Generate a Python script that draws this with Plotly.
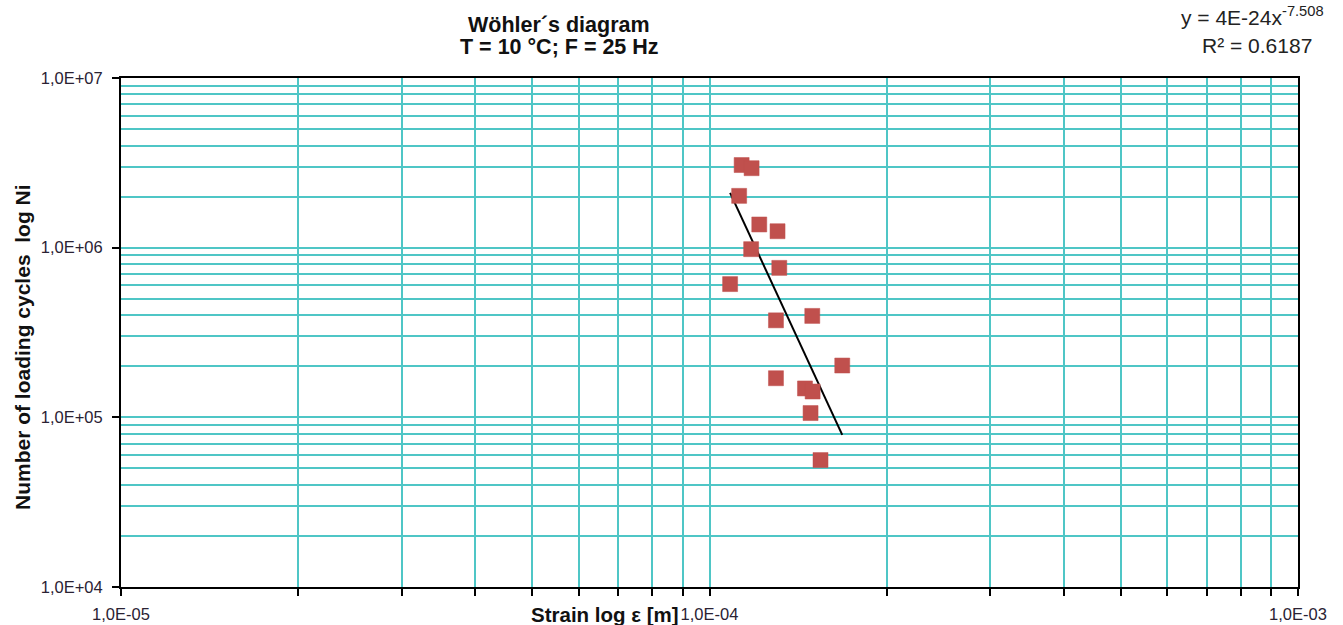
import numpy as np
import plotly.graph_objects as go

# Data
strain = [1.134e-4, 1.179e-4, 1.123e-4, 1.215e-4, 1.305e-4, 1.177e-4, 1.314e-4, 1.084e-4,
          1.297e-4, 1.495e-4, 1.681e-4, 1.297e-4, 1.453e-4, 1.497e-4, 1.485e-4, 1.544e-4]
cycles = [3.07e6, 2.94e6, 2.02e6, 1.37e6, 1.25e6, 9.8e5, 7.6e5, 6.1e5,
          3.73e5, 3.96e5, 2.02e5, 1.70e5, 1.48e5, 1.42e5, 1.06e5, 5.6e4]

x_tickvals = [1e-5, 1e-4, 1e-3]
x_ticktext = ["1,0E-05", "1,0E-04", "1,0E-03"]
y_tickvals = [1e4, 1e5, 1e6, 1e7]
y_ticktext = ["1,0E+04", "1,0E+05", "1,0E+06", "1,0E+07"]
x_minor = [m * 10.0 ** e for e in (-5, -4) for m in range(2, 10)]
y_minor = [m * 10.0 ** e for e in (4, 5, 6) for m in range(2, 10)]

# Power trendline (least squares in log-log space, as Excel does)
lx, ly = np.log10(strain), np.log10(cycles)
b, a = np.polyfit(lx, ly, 1)
tx = np.array([min(strain), max(strain)])
ty = 10 ** (a + b * np.log10(tx))

FONT = "Liberation Sans, Arial, sans-serif"
GRID = "#4FC6C6"
TICKC = "#2a2233"

fig = go.Figure()
fig.add_trace(go.Scatter(x=tx, y=ty, mode="lines", line=dict(color="black", width=2),
                         showlegend=False, hoverinfo="skip"))
fig.add_trace(go.Scatter(x=strain, y=cycles, mode="markers",
                         marker=dict(symbol="square", size=15, color="#C0504D",
                                     line=dict(width=1, color="rgba(192,80,77,0.5)")),
                         showlegend=False))

fig.update_layout(
    width=1343, height=625,
    margin=dict(l=121, r=45, t=78, b=38),
    paper_bgcolor="white", plot_bgcolor="white",
    font=dict(family=FONT, size=16, color=TICKC),
    xaxis=dict(type="log", range=[-5, -3], tickmode="array", tickvals=x_tickvals,
               ticktext=x_ticktext, showgrid=True, gridcolor=GRID, gridwidth=2,
               ticks="outside", ticklen=7, tickwidth=2, tickcolor="black",
               showline=True, linecolor="black", linewidth=2, mirror=True,
               zeroline=False, ticklabelstandoff=4, automargin=False,
               minor=dict(tickmode="array", tickvals=x_minor, showgrid=True,
                          gridcolor=GRID, gridwidth=2, ticks="outside", ticklen=7,
                          tickwidth=2, tickcolor="black"),
               tickfont=dict(size=16.5, color=TICKC)),
    yaxis=dict(type="log", range=[4, 7], tickmode="array", tickvals=y_tickvals,
               ticktext=y_ticktext, showgrid=True, gridcolor=GRID, gridwidth=2,
               ticks="outside", ticklen=7, tickwidth=2, tickcolor="black",
               showline=True, linecolor="black", linewidth=2, mirror=True,
               zeroline=False, ticklabelstandoff=6, automargin=False,
               minor=dict(tickmode="array", tickvals=y_minor, showgrid=True,
                          gridcolor=GRID, gridwidth=2, ticks=""),
               tickfont=dict(size=16.5, color=TICKC)),
)

TX = (559 - 121) / 1177
fig.add_annotation(text="<b>Wöhler´s diagram</b>", xref="paper", yref="paper",
                   x=TX, y=1, yshift=53, xanchor="center", yanchor="middle",
                   showarrow=False, font=dict(size=21.5, color="#111111", family=FONT))
fig.add_annotation(text="<b>T = 10 °C; F = 25 Hz</b>", xref="paper", yref="paper",
                   x=TX, y=1, yshift=31, xanchor="center", yanchor="middle",
                   showarrow=False, font=dict(size=21.5, color="#111111", family=FONT))
fig.add_annotation(text="y = 4E-24x<sup>-7.508</sup>", xref="paper", yref="paper",
                   x=(1252 - 121) / 1177, y=1, yshift=62, xanchor="center", yanchor="middle",
                   showarrow=False, font=dict(size=21, color="#222222", family=FONT))
fig.add_annotation(text="R² = 0.6187", xref="paper", yref="paper",
                   x=(1257 - 121) / 1177, y=1, yshift=33, xanchor="center", yanchor="middle",
                   showarrow=False, font=dict(size=21, color="#222222", family=FONT))
fig.add_annotation(text="<b>Strain log ε [m]</b>", xref="paper", yref="paper",
                   x=(605 - 121) / 1177, y=0, yshift=-27, xanchor="center", yanchor="middle",
                   showarrow=False, font=dict(size=20.5, color="#111111", family=FONT))
fig.add_annotation(text="<b>Number of loading cycles  log Ni</b>", xref="paper", yref="paper",
                   x=0, xshift=-99, y=(587 - 347) / 509, xanchor="center", yanchor="middle",
                   textangle=-90, showarrow=False,
                   font=dict(size=21, color="#111111", family=FONT))

fig.write_html("out.html", config={"displayModeBar": False})

# remove the browser's default 8px body margin so the figure sits at (0, 0)
with open("out.html", encoding="utf-8") as f:
    html = f.read()
html = html.replace("<head>", "<head><style>html,body{margin:0;padding:0;}</style>", 1)
with open("out.html", "w", encoding="utf-8") as f:
    f.write(html)
